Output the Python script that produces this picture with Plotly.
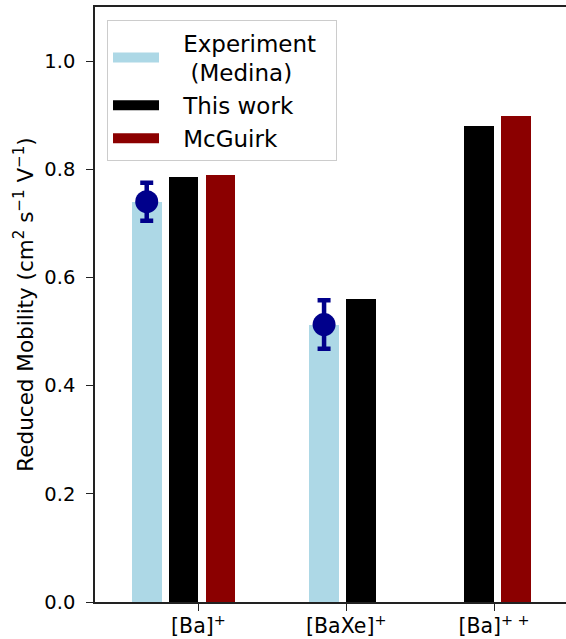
import plotly.graph_objects as go

categories = ["[Ba]<sup>+</sup>", "[BaXe]<sup>+</sup>", "[Ba]<sup>+ +</sup>"]
experiment = [0.740, 0.513, None]
experiment_err = [0.035, 0.045, None]
this_work = [0.785, 0.561, 0.880]
mcguirk = [0.789, None, 0.899]
series_names = ["Experiment\u00a0\u00a0<br> (Medina)", "This work", "McGuirk"]
colors = ["#ADD8E6", "#000000", "#8B0000"]
yticks = [0.0, 0.2, 0.4, 0.6, 0.8, 1.0]

# layout of bars (style): series offsets within a group, per-group shift
x = list(range(len(categories)))
bar_w = 0.2
series_offsets = [-0.35, -0.1, 0.15]
group_shift = [0.0, 0.2, 0.0]

fig = go.Figure()
for vals, col, so in zip([experiment, this_work, mcguirk], colors, series_offsets):
    fig.add_trace(go.Bar(x=x, y=vals, width=bar_w,
                         offset=[so + gs - bar_w / 2 for gs in group_shift],
                         marker=dict(color=col, line=dict(width=0)),
                         showlegend=False))

# experimental points with error bars
fig.add_trace(go.Scatter(
    x=[xi + gs + series_offsets[0] for xi, gs, v in zip(x, group_shift, experiment) if v is not None],
    y=[v for v in experiment if v is not None],
    error_y=dict(type="data", array=[e for e in experiment_err if e is not None],
                 color="#00008B", thickness=4.5, width=6.5),
    mode="markers", marker=dict(color="#00008B", size=23),
    showlegend=False))

# legend swatches
pad = "\u00a0\u00a0\u2009"
for name, col in zip(series_names, colors):
    fig.add_trace(go.Scatter(x=[None], y=[None], mode="lines",
                             name=pad + name.replace("<br>", "<br>" + pad),
                             line=dict(color=col, width=16)))

fig.update_layout(
    width=566, height=639,
    margin=dict(l=95, r=0, t=7, b=37, autoexpand=False),
    paper_bgcolor="white", plot_bgcolor="white",
    font=dict(family="DejaVu Sans", color="black"),
    bargap=0,
    legend=dict(x=0.0255, y=0.978, xanchor="left", yanchor="top",
                bgcolor="rgba(255,255,255,0.8)", bordercolor="#cccccc",
                borderwidth=1, font=dict(size=23), itemwidth=46,
                tracegroupgap=0),
)
fig.update_xaxes(range=[-0.7, 2.487], tickmode="array", tickvals=x,
                 ticktext=categories, showline=True, linecolor="#222",
                 linewidth=1.5, mirror=True, ticks="outside", ticklen=7,
                 tickcolor="#222", tickfont=dict(size=20.5), showgrid=False,
                 zeroline=False, ticklabelstandoff=-2)
fig.update_yaxes(range=[0, 1.1], tickmode="array", tickvals=yticks,
                 tickformat=".1f", showline=True, linecolor="#222",
                 linewidth=1.5, ticks="outside", ticklen=7, tickcolor="#222",
                 tickfont=dict(size=19.5), showgrid=False, zeroline=False,
                 ticklabelstandoff=7,
                 title=dict(text="Reduced Mobility (cm<sup>2</sup> s<sup>\u22121</sup> V<sup>\u22121</sup>)",
                            font=dict(size=21.5), standoff=5))

fig.write_html("out.html", config={"displayModeBar": False},
               post_script="document.body.style.margin='0';document.body.style.overflow='hidden';")
